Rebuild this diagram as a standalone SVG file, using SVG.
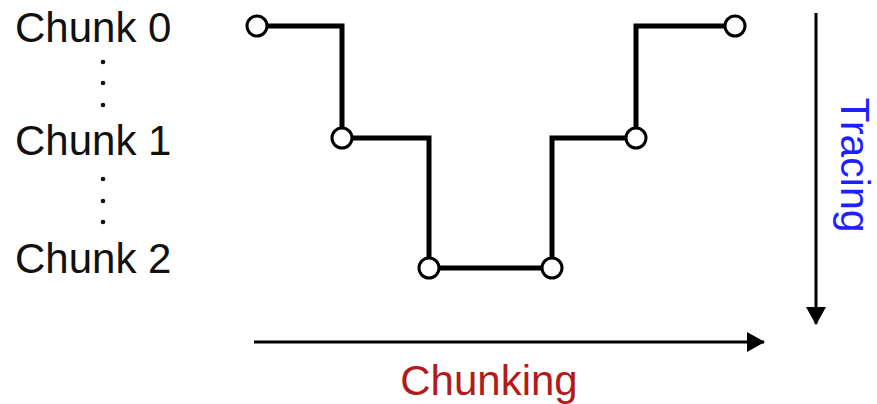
<svg xmlns="http://www.w3.org/2000/svg" width="877" height="404" viewBox="0 0 877 404">
<style>
.lbl{font-family:"Liberation Sans",Arial,sans-serif;font-size:42px;fill:#111}
.dot{fill:#111}
.trace{fill:none;stroke:#000;stroke-width:5;stroke-linejoin:miter}
.node{fill:#fff;stroke:#000;stroke-width:3}
.axis{stroke:#000;stroke-width:3;fill:none}
</style>
<defs>
<marker id="ah" viewBox="0 0 18 20" refX="17" refY="10" markerWidth="18" markerHeight="20" markerUnits="userSpaceOnUse" orient="auto">
<path d="M0,0 L18,10 L0,20 Z" fill="#000"/>
</marker>
</defs>
<g id="labels">
<text class="lbl" x="15" y="42">Chunk 0</text>
<text class="lbl" x="15" y="155">Chunk 1</text>
<text class="lbl" x="15" y="273">Chunk 2</text>
<circle class="dot" cx="103" cy="62" r="2.3"/>
<circle class="dot" cx="103" cy="83" r="2.3"/>
<circle class="dot" cx="103" cy="105" r="2.3"/>
<circle class="dot" cx="103" cy="179" r="2.3"/>
<circle class="dot" cx="103" cy="201" r="2.3"/>
<circle class="dot" cx="103" cy="222" r="2.3"/>
</g>
<g id="connectors">
<path class="trace" d="M257,26 H342 V138 H429 V268 H552 V138 H636 V26 H735"/>
<line class="axis" x1="816" y1="13" x2="816" y2="324" marker-end="url(#ah)"/>
<line class="axis" x1="254" y1="342" x2="764" y2="342" marker-end="url(#ah)"/>
</g>
<g id="n0"><circle class="node" cx="257" cy="26" r="10"/></g>
<g id="n1"><circle class="node" cx="342" cy="138" r="10"/></g>
<g id="n2"><circle class="node" cx="429" cy="268" r="10"/></g>
<g id="n3"><circle class="node" cx="552" cy="268" r="10"/></g>
<g id="n4"><circle class="node" cx="636" cy="138" r="10"/></g>
<g id="n5"><circle class="node" cx="735" cy="26" r="10"/></g>
<g id="axis-labels">
<text x="841" y="165" transform="rotate(90 841 165)" text-anchor="middle" style="font-family:'Liberation Sans',Arial,sans-serif;font-size:41px;fill:#1f1fff">Tracing</text>
<text x="489" y="395" text-anchor="middle" style="font-family:'Liberation Sans',Arial,sans-serif;font-size:42px;fill:#b31b1b">Chunking</text>
</g>
</svg>
